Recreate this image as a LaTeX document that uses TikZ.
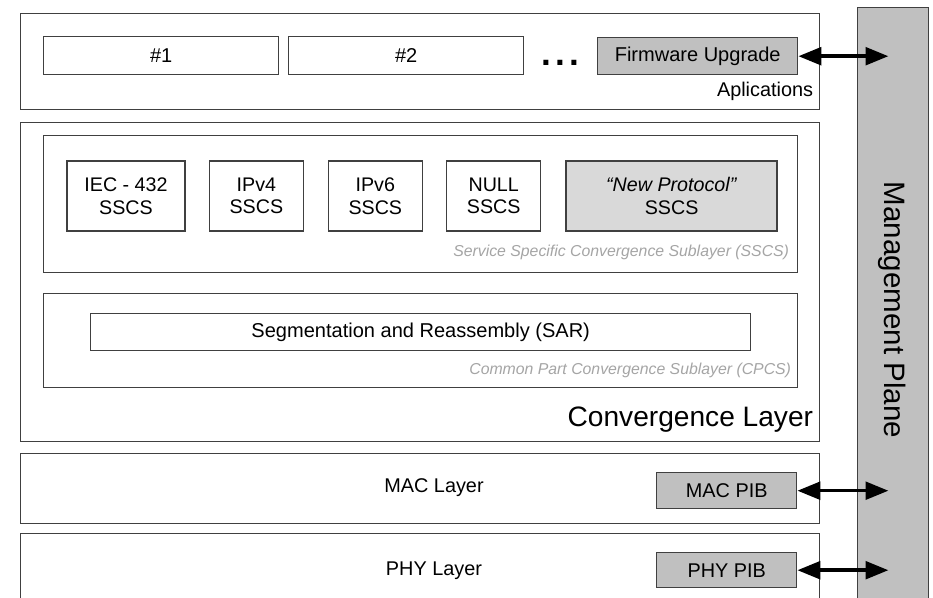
\documentclass[tikz,border=0pt]{standalone}
\usepackage{fontspec}
\setmainfont{Liberation Sans}
\usetikzlibrary{arrows.meta, positioning, calc}
\definecolor{framegray}{RGB}{64, 64, 64}
\definecolor{pibgray}{RGB}{192, 192, 192}
\definecolor{newgray}{RGB}{217, 217, 217}
\definecolor{notegray}{RGB}{165, 165, 165}
\tikzset{
  layerbox/.style={draw=framegray, line width=0.8pt, inner sep=0pt, anchor=north west},
  appbox/.style={layerbox, minimum height=7.6mm, font=\fontsize{11.4}{13}\selectfont},
  sscsbox/.style={draw=framegray, line width=0.8pt, inner sep=0pt, minimum height=14mm, minimum width=18.8mm, align=center, font=\fontsize{11.2}{12.8}\selectfont, execute at begin node=\vphantom{6l}},
  pibbox/.style={layerbox, fill=pibgray, minimum width=28mm, font=\fontsize{11.3}{13}\selectfont},
  sublabel/.style={anchor=base east, inner sep=0pt, text=notegray, font=\fontsize{9}{11}\selectfont\itshape},
  mgmtarrow/.style={{Triangle[length=13pt, width=10pt]}-{Triangle[length=13pt, width=10pt]}, line width=2pt, black}
}

\begin{document}
\begin{tikzpicture}[x=0.2mm, y=-0.2mm]
    \clip (0,0) rectangle (933,598);
    \fill[white] (0,0) rectangle (933,598);

    % management plane
    \node (mgmt) [layerbox, fill=pibgray, minimum width=14.2mm, minimum height=121mm] at (857,7) {};
    \node (mgmtlabel) [rotate=-90, font=\fontsize{16.8}{20}\selectfont] at (892,310) {Management Plane};

    % applications
    \node (apps) [layerbox, minimum width=159.8mm, minimum height=19.2mm] at (20,13) {};
    \node (app1) [appbox, minimum width=47mm] at (43,36) {\#1};
    \node (app2) [appbox, minimum width=47mm] at (288,36) {\#2};
    \node (dots) [anchor=base, inner sep=0pt, font=\fontsize{20}{20}\selectfont\bfseries] at (560,65) {.\hspace{2.4pt}.\hspace{2.4pt}.};
    \node (fw) [appbox, fill=pibgray, minimum width=40mm, minimum height=7.4mm] at (597,37) {Firmware Upgrade};
    \node (appslabel) [anchor=base east, inner sep=0pt, font=\fontsize{11.3}{13}\selectfont] at ($(apps.south east)+(-7,-14)$) {Aplications};

    % convergence layer
    \node (conv) [layerbox, minimum width=159.8mm, minimum height=63.8mm] at (20,122) {};
    \node (sscs) [layerbox, minimum width=150.8mm, minimum height=27.4mm] at (43,135) {};
    \node (iec) [sscsbox, minimum width=23.6mm] at (126,196) {IEC - 432\\SSCS};
    \node (ipv4) [sscsbox, right=4.6mm of iec] {IPv4\\SSCS};
    \node (ipv6) [sscsbox, right=4.7mm of ipv4] {IPv6\\SSCS};
    \node (null) [sscsbox, right=4.6mm of ipv6] {NULL\\SSCS};
    \node (newp) [sscsbox, fill=newgray, minimum width=42.2mm, right=4.8mm of null] {\textit{``New Protocol''}\\SSCS};
    \node (sscslabel) [sublabel] at ($(sscs.south east)+(-9,-17)$) {Service Specific Convergence Sublayer (SSCS)};

    \node (cpcs) [layerbox, minimum width=150.8mm, minimum height=18.8mm] at (43,293) {};
    \node (sar) [layerbox, minimum width=132mm, minimum height=7.4mm, font=\fontsize{11.4}{13}\selectfont] at (90,313) {Segmentation and Reassembly (SAR)};
    \node (cpcslabel) [sublabel] at ($(cpcs.south east)+(-7,-14)$) {Common Part Convergence Sublayer (CPCS)};
    \node (convlabel) [anchor=base east, inner sep=0pt, font=\fontsize{16}{19}\selectfont] at ($(conv.south east)+(-7,-16)$) {Convergence Layer};

    % mac and phy layers
    \node (mac) [layerbox, minimum width=159.8mm, minimum height=14mm] at (20,453) {};
    \node (maclabel) [font=\fontsize{11.3}{13}\selectfont] at (434,488) {MAC Layer};
    \node (macpib) [pibbox, minimum height=7.2mm] at (656,472) {MAC PIB};

    \node (phy) [layerbox, minimum width=159.8mm, minimum height=16mm] at (20,533) {};
    \node (phylabel) [font=\fontsize{11.3}{13}\selectfont] at (434,571) {PHY Layer};
    \node (phypib) [pibbox, minimum height=7mm] at (656,552) {PHY PIB};

    % links to the management plane
    \coordinate (fwtip) at ($(fw.east)+(90,0)$);
    \coordinate (mactip) at ($(macpib.east)+(91,0)$);
    \coordinate (phytip) at ($(phypib.east)+(91,0)$);
    \draw[mgmtarrow] (fw.east) -- (fwtip);
    \draw[mgmtarrow] (macpib.east) -- (mactip);
    \draw[mgmtarrow] (phypib.east) -- (phytip);
\end{tikzpicture}
\end{document}
